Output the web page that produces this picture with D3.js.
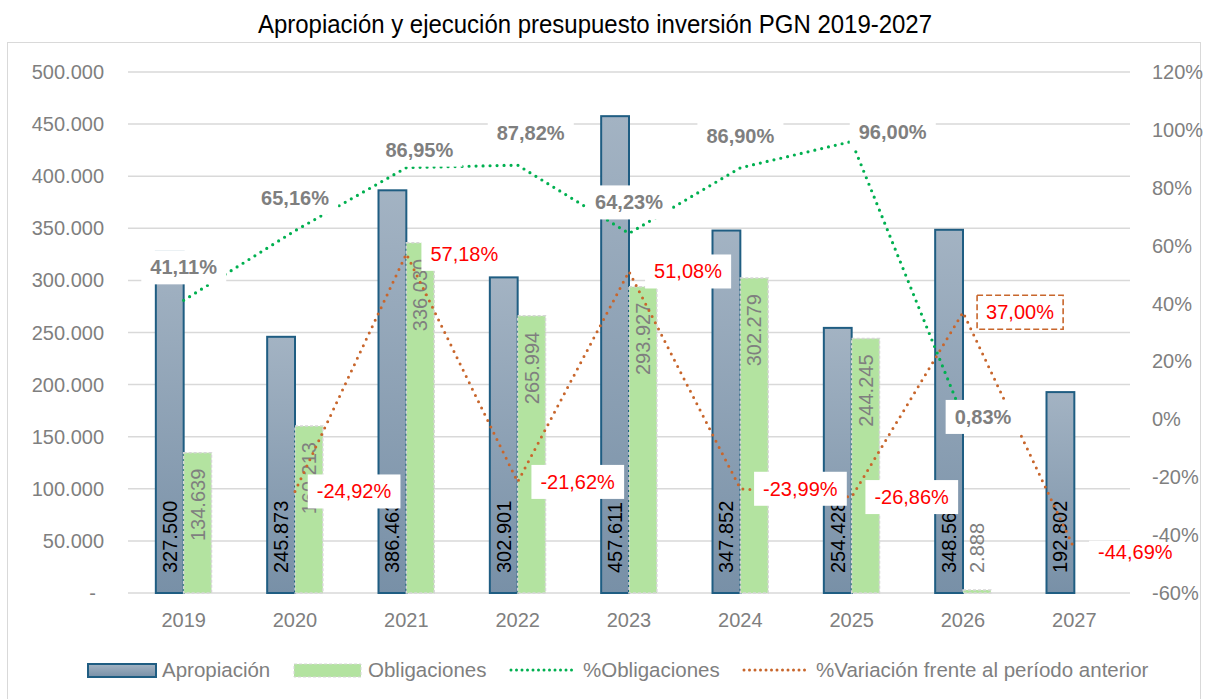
<!DOCTYPE html>
<html>
<head>
<meta charset="utf-8">
<script src="https://cdn.jsdelivr.net/npm/d3@7"></script>
<style>
  html, body { margin: 0; padding: 0; background: #fff; }
  svg { display: block; font-family: "Liberation Sans", Arial, sans-serif; }
</style>
</head>
<body>
<div id="chart"></div>
<script>
// ----- Data -----
const years          = ["2019", "2020", "2021", "2022", "2023", "2024", "2025", "2026", "2027"];
const apropiacion    = [327500, 245873, 386463, 302901, 457611, 347852, 254428, 348565, 192802];
const obligaciones   = [134639, 160213, 336030, 265994, 293927, 302279, 244245, 2888, null];
const pctObligacion  = [41.11, 65.16, 86.95, 87.82, 64.23, 86.90, 96.00, 0.83, null];
const pctVariacion   = [null, -24.92, 57.18, -21.62, 51.08, -23.99, -26.86, 37.00, -44.69];
const leftTicks      = [0, 50000, 100000, 150000, 200000, 250000, 300000, 350000, 400000, 450000, 500000];
const rightTicks     = [-60, -40, -20, 0, 20, 40, 60, 80, 100, 120];
const seriesNames    = ["Apropiación", "Obligaciones", "%Obligaciones", "%Variación frente al período anterior"];

// label nudges (layout only)
const greenLabelShift  = [[0, -33], [0, -33], [13, -18], [13, -32], [0, -31], [0, -32], [41, -9], [20, 0], null];
const orangeLabelShift = [[0, 0], [59, 0], [58, 0], [60, 0], [59, 0], [60, 0], [60, 0], [57, 0], [61, 3]];

// ----- Setup -----
const W = 1208, H = 699;
const plot = { left: 128, right: 1130, top: 72, bottom: 593 };

const loc = d3.formatLocale({ decimal: ",", thousands: ".", grouping: [3], currency: ["", ""], minus: "-" });
const fmtNum = loc.format(",.0f");
const fmtPct = v => loc.format(".2f")(v) + "%";

const GRAY = "#7f7f7f";
const GRID = "#d9d9d9";
const GREEN_LINE = "#00b050";
const ORANGE_LINE = "#c8662c";

const svg = d3.select("#chart").append("svg")
  .attr("width", W).attr("height", H);

const defs = svg.append("defs");
const grad = defs.append("linearGradient")
  .attr("id", "gApro").attr("x1", 0).attr("y1", 0).attr("x2", 0).attr("y2", 1);
grad.append("stop").attr("offset", "0%").attr("stop-color", "#a3b3c3");
grad.append("stop").attr("offset", "100%").attr("stop-color", "#7890a7");

// chart frame
svg.append("rect")
  .attr("x", 7.5).attr("y", 42.5)
  .attr("width", 1193).attr("height", 700)
  .attr("fill", "none").attr("stroke", "#d9d9d9").attr("stroke-width", 1);

// title
svg.append("text")
  .attr("x", 595).attr("y", 33)
  .attr("text-anchor", "middle")
  .attr("font-family", "'Liberation Sans Narrow', 'Arial Narrow', sans-serif")
  .attr("font-size", 26)
  .attr("fill", "#000")
  .attr("textLength", 674)
  .attr("lengthAdjust", "spacingAndGlyphs")
  .text("Apropiación y ejecución presupuesto inversión PGN 2019-2027");

// ----- Scales -----
const x0 = d3.scaleBand()
  .domain(years)
  .range([plot.left, plot.right])
  .paddingInner(0.5)
  .paddingOuter(0.25);

const x1 = d3.scaleBand()
  .domain(["apro", "obl"])
  .range([0, x0.bandwidth()]);

const yL = d3.scaleLinear().domain([0, 500000]).range([plot.bottom, plot.top]);
const yR = d3.scaleLinear().domain([-60, 120]).range([plot.bottom, plot.top]);

const cx = y => x0(y) + x0.bandwidth() / 2;

// ----- Grid + left axis -----
const gGrid = svg.append("g");
gGrid.selectAll("line")
  .data(leftTicks)
  .enter().append("line")
  .attr("x1", plot.left).attr("x2", plot.right)
  .attr("y1", d => yL(d)).attr("y2", d => yL(d))
  .attr("stroke", GRID).attr("stroke-width", 1.5);

const gAxis = svg.append("g").attr("font-size", 20).attr("fill", GRAY);
gAxis.selectAll(".yl")
  .data(leftTicks)
  .enter().append("text")
  .attr("x", d => d === 0 ? 96 : 104)
  .attr("y", d => yL(d))
  .attr("dy", "0.35em")
  .attr("text-anchor", "end")
  .text(d => d === 0 ? "-" : fmtNum(d));

gAxis.selectAll(".xl")
  .data(years)
  .enter().append("text")
  .attr("x", d => cx(d))
  .attr("y", 620)
  .attr("dy", "0.35em")
  .attr("text-anchor", "middle")
  .text(d => d);

// ----- Bars -----
const rows = years.map((yr, i) => ({ yr, apro: apropiacion[i], obl: obligaciones[i] }));

const gBars = svg.append("g");
gBars.selectAll(".apro")
  .data(rows)
  .enter().append("rect")
  .attr("x", d => x0(d.yr) + x1("apro"))
  .attr("y", d => yL(d.apro))
  .attr("width", x1.bandwidth())
  .attr("height", d => plot.bottom - yL(d.apro))
  .attr("fill", "url(#gApro)")
  .attr("stroke", "#1f5d82")
  .attr("stroke-width", 2);

gBars.selectAll(".obl")
  .data(rows.filter(d => d.obl != null))
  .enter().append("rect")
  .attr("x", d => x0(d.yr) + x1("obl"))
  .attr("y", d => yL(d.obl))
  .attr("width", x1.bandwidth())
  .attr("height", d => plot.bottom - yL(d.obl))
  .attr("fill", "#b3e3a0")
  .attr("stroke", "#d6d6d6")
  .attr("stroke-width", 1.5)
  .attr("stroke-dasharray", "3,2");

// bar value labels (rotated)
gBars.selectAll(".aproLbl")
  .data(rows)
  .enter().append("text")
  .attr("transform", d => `translate(${x0(d.yr) + x1("apro") + x1.bandwidth() / 2},573) rotate(-90)`)
  .attr("dy", "0.35em")
  .attr("text-anchor", "start")
  .attr("font-size", 20)
  .attr("fill", "#000")
  .text(d => fmtNum(d.apro));

gBars.selectAll(".oblLbl")
  .data(rows.filter(d => d.obl != null))
  .enter().append("text")
  .attr("transform", d => {
    const xc = x0(d.yr) + x1("obl") + x1.bandwidth() / 2;
    const small = plot.bottom - yL(d.obl) < 90;
    return `translate(${xc},${small ? 573 : yL(d.obl) + 16}) rotate(-90)`;
  })
  .attr("dy", "0.35em")
  .attr("text-anchor", d => (plot.bottom - yL(d.obl) < 90) ? "start" : "end")
  .attr("font-size", 20)
  .attr("fill", GRAY)
  .text(d => fmtNum(d.obl));

// ----- Lines -----
const greenPts = years.map((yr, i) => ({ yr, v: pctObligacion[i], i }));
const orangePts = years.map((yr, i) => ({ yr, v: pctVariacion[i], i }));

const line = d3.line()
  .defined(d => d.v != null)
  .x(d => cx(d.yr))
  .y(d => yR(d.v));

svg.append("path")
  .datum(greenPts)
  .attr("d", line)
  .attr("fill", "none")
  .attr("stroke", GREEN_LINE)
  .attr("stroke-width", 3.2)
  .attr("stroke-linecap", "round")
  .attr("stroke-dasharray", "0,7");

svg.append("path")
  .datum(orangePts)
  .attr("d", line)
  .attr("fill", "none")
  .attr("stroke", ORANGE_LINE)
  .attr("stroke-width", 3)
  .attr("stroke-linecap", "round")
  .attr("stroke-dasharray", "0,7");

// ----- Line labels with white boxes -----
function boxLabel(g, x, y, txt, opts) {
  const t = g.append("text")
    .attr("x", x).attr("y", y)
    .attr("dy", "0.35em")
    .attr("text-anchor", "middle")
    .attr("font-size", 20)
    .attr("font-weight", opts.bold ? "bold" : "normal")
    .attr("fill", opts.color)
    .text(txt);
  const bb = t.node().getBBox();
  const bh = opts.boxH || 34;
  g.insert("rect", () => t.node())
    .attr("x", bb.x - 9).attr("y", y - bh / 2)
    .attr("width", bb.width + 18).attr("height", bh)
    .attr("fill", "#fff")
    .attr("stroke", opts.border || "none")
    .attr("stroke-width", opts.border ? 1.6 : 0)
    .attr("stroke-dasharray", opts.border ? "6,3" : null);
}

const gLbl = svg.append("g");
orangePts.filter(d => d.v != null).forEach(d => {
  const s = orangeLabelShift[d.i];
  boxLabel(gLbl, cx(d.yr) + s[0], yR(d.v) + s[1], fmtPct(d.v), {
    color: "#ff0000",
    border: d.v === 37.00 ? ORANGE_LINE : null,
    boxH: d.i === 8 ? 22 : 34
  });
});
greenPts.filter(d => d.v != null).forEach(d => {
  const s = greenLabelShift[d.i];
  boxLabel(gLbl, cx(d.yr) + s[0], yR(d.v) + s[1], fmtPct(d.v), { color: GRAY, bold: true });
});

// right axis labels (drawn on top)
const gAxisR = svg.append("g").attr("font-size", 20).attr("fill", GRAY);
gAxisR.selectAll("text")
  .data(rightTicks)
  .enter().append("text")
  .attr("x", 1152)
  .attr("y", d => yR(d))
  .attr("dy", "0.35em")
  .attr("text-anchor", "start")
  .text(d => d + "%");

// ----- Legend -----
const gLeg = svg.append("g").attr("font-size", 20.5).attr("fill", GRAY);
const legY = 670;
const legItems = [
  { name: seriesNames[0], x: 88,  type: "apro" },
  { name: seriesNames[1], x: 294, type: "obl" },
  { name: seriesNames[2], x: 509, type: "green" },
  { name: seriesNames[3], x: 742, type: "orange" }
];
legItems.forEach(it => {
  if (it.type === "apro") {
    gLeg.append("rect").attr("x", it.x).attr("y", legY - 6).attr("width", 68).attr("height", 13)
      .attr("fill", "url(#gApro)").attr("stroke", "#1f5d82").attr("stroke-width", 2);
  } else if (it.type === "obl") {
    gLeg.append("rect").attr("x", it.x).attr("y", legY - 6).attr("width", 67).attr("height", 13)
      .attr("fill", "#b3e3a0").attr("stroke", "#d6d6d6").attr("stroke-dasharray", "3,2");
  } else {
    gLeg.append("line").attr("x1", it.x + 2).attr("x2", it.x + 66)
      .attr("y1", legY).attr("y2", legY)
      .attr("stroke", it.type === "green" ? GREEN_LINE : ORANGE_LINE)
      .attr("stroke-width", 3).attr("stroke-linecap", "round").attr("stroke-dasharray", "0,5.5");
  }
  gLeg.append("text")
    .attr("x", it.x + 74).attr("y", legY)
    .attr("dy", "0.35em")
    .text(it.name);
});
</script>
</body>
</html>
